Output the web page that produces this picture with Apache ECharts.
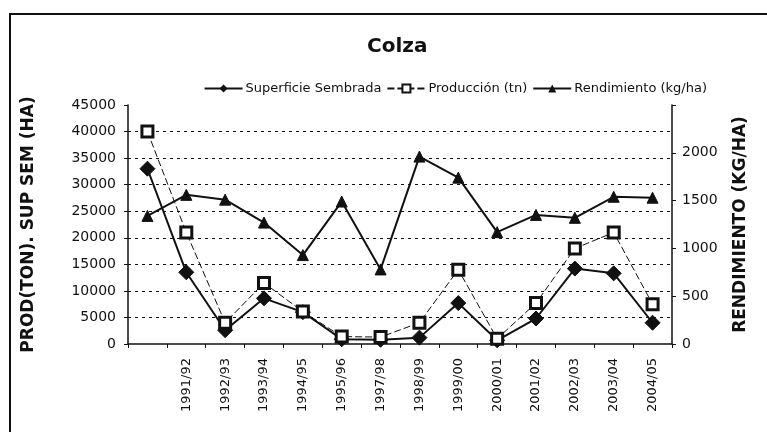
<!DOCTYPE html>
<html>
<head>
<meta charset="utf-8">
<script src="https://cdn.jsdelivr.net/npm/echarts@6/dist/echarts.min.js"></script>
<style>
html,body{margin:0;padding:0;background:#fff;}
#chart{position:absolute;left:0;top:0;width:767px;height:432px;}
#frame{position:absolute;left:9px;top:13px;width:758px;height:419px;border-top:2px solid #111;border-left:2px solid #111;pointer-events:none;}
</style>
</head>
<body>
<div id="chart"></div>
<div id="frame"></div>
<script>
var categories = ['', '1991/92', '1992/93', '1993/94', '1994/95', '1995/96', '1997/98', '1998/99', '1999/00', '2000/01', '2001/02', '2002/03', '2003/04', '2004/05'];
var superficie = [33000, 13500, 2600, 8600, 6000, 900, 800, 1200, 7700, 700, 4800, 14200, 13300, 4000];
var produccion = [40000, 21000, 4000, 11500, 6100, 1400, 1300, 4000, 14000, 1000, 7700, 18000, 21000, 7500];
var rendimiento = [1340, 1560, 1510, 1270, 930, 1490, 780, 1960, 1740, 1170, 1350, 1320, 1540, 1530];
var seriesNames = ['Superficie Sembrada', 'Producción (tn)', 'Rendimiento (kg/ha)'];
var titleText = 'Colza';
var leftAxisName = 'PROD(TON). SUP SEM (HA)';
var rightAxisName = 'RENDIMIENTO (KG/HA)';

var font = 'DejaVu Sans, sans-serif';
var chart = echarts.init(document.getElementById('chart'));
chart.setOption({
  animation: false,
  backgroundColor: '#fff',
  title: {
    text: titleText, left: 362, top: 32,
    textStyle: {fontFamily: font, fontSize: 20, fontWeight: 'bold', color: '#111'}
  },
  legend: {
    right: 55, top: 77, itemGap: 5, itemWidth: 38, itemHeight: 10,
    textStyle: {fontFamily: font, fontSize: 13, color: '#111', padding: [0, 0, 0, -2]},
    data: seriesNames
  },
  grid: {left: 128, right: 95, top: 105, bottom: 88, containLabel: false},
  xAxis: {
    type: 'category', data: categories, boundaryGap: true,
    axisLine: {lineStyle: {color: '#111', width: 1.5}},
    axisTick: {show: true, alignWithLabel: false, length: 4, lineStyle: {color: '#111'}},
    axisLabel: {rotate: 90, fontFamily: font, fontSize: 13, color: '#111', margin: 14, interval: 0}
  },
  yAxis: [{
    type: 'value', min: 0, max: 45000, interval: 5000,
    name: leftAxisName, nameLocation: 'middle', nameGap: 91, nameRotate: 90,
    nameTextStyle: {fontFamily: font, fontSize: 17, fontWeight: 'bold', color: '#111'},
    axisLine: {show: true, lineStyle: {color: '#111', width: 1.5}},
    axisTick: {show: true, length: 4, lineStyle: {color: '#111'}},
    axisLabel: {fontFamily: font, fontSize: 14, color: '#111', margin: 12,
      formatter: function (v) { return String(v); }},
    splitLine: {show: true, showMinLine: false, showMaxLine: false, lineStyle: {color: '#111', type: [3, 4], width: 1}}
  }, {
    type: 'value', min: 0, max: 2500, interval: 500, position: 'right',
    name: rightAxisName, nameLocation: 'middle', nameGap: 60, nameRotate: 90,
    nameTextStyle: {fontFamily: font, fontSize: 17, fontWeight: 'bold', color: '#111'},
    axisLine: {show: true, lineStyle: {color: '#111', width: 1.5}},
    axisTick: {show: true, length: 4, lineStyle: {color: '#111'}},
    axisLabel: {fontFamily: font, fontSize: 14, color: '#111', margin: 10,
      formatter: function (v) { return v === 2500 ? '' : String(v); }},
    splitLine: {show: false}
  }],
  series: [{
    name: seriesNames[0], type: 'line', yAxisIndex: 0, data: superficie,
    symbol: 'diamond', symbolSize: 15, showAllSymbol: true,
    lineStyle: {color: '#111', width: 2},
    itemStyle: {color: '#111', borderColor: '#111'}
  }, {
    name: seriesNames[1], type: 'line', yAxisIndex: 0, data: produccion,
    symbol: 'rect', symbolSize: 11, showAllSymbol: true,
    lineStyle: {color: '#111', width: 1, type: [7, 3]},
    itemStyle: {color: '#fff', borderColor: '#111', borderWidth: 3}
  }, {
    name: seriesNames[2], type: 'line', yAxisIndex: 1, data: rendimiento,
    symbol: 'triangle', symbolSize: 11, showAllSymbol: true,
    lineStyle: {color: '#111', width: 2},
    itemStyle: {color: '#111', borderColor: '#111'}
  }]
});
</script>
</body>
</html>
